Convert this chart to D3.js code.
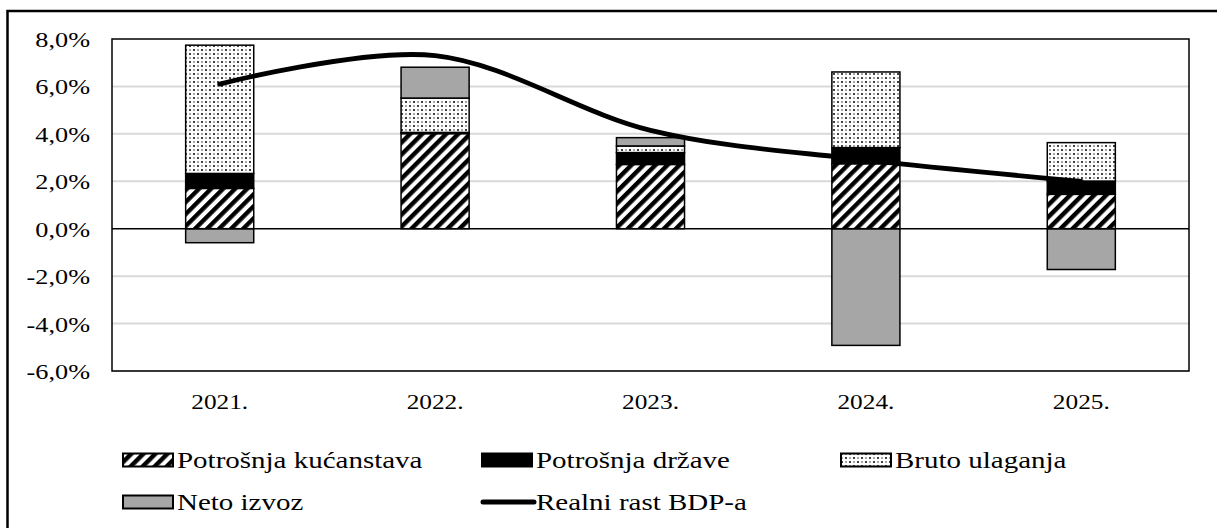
<!DOCTYPE html>
<html>
<head>
<meta charset="utf-8">
<script src="https://cdn.jsdelivr.net/npm/d3@7"></script>
<style>
  body { margin: 0; background: #fff; }
  text { font-family: "Liberation Serif", "Times New Roman", serif; fill: #000; }
</style>
</head>
<body>
<svg id="chart" width="1217" height="528"></svg>
<script>
"use strict";

// values (percentage points)
var years = ["2021.", "2022.", "2023.", "2024.", "2025."];
var kucanstva = [1.70, 4.01, 2.71, 2.74, 1.45];
var drzava = [0.63, 0.05, 0.50, 0.68, 0.56];
var ulaganja = [5.41, 1.45, 0.28, 3.19, 1.62];
var izvoz = [-0.59, 1.30, 0.35, -4.92, -1.72];
var bdp = [6.1, 7.3, 4.15, 2.9, 2.0];
var yTicks = [-6, -4, -2, 0, 2, 4, 6, 8];

var seriesKeys = ["kucanstva", "drzava", "ulaganja", "izvoz"];
var seriesNames = {
  kucanstva: "Potrošnja kućanstava",
  drzava: "Potrošnja države",
  ulaganja: "Bruto ulaganja",
  izvoz: "Neto izvoz"
};

var rows = years.map(function (y, i) {
  return {year: y, kucanstva: kucanstva[i], drzava: drzava[i], ulaganja: ulaganja[i], izvoz: izvoz[i], bdp: bdp[i]};
});

var svg = d3.select("#chart");
var plotLeft = 112, plotRight = 1189, plotTop = 39, plotBottom = 371;

var defs = svg.append("defs");

var hatch = defs.append("pattern")
  .attr("id", "hatch")
  .attr("patternUnits", "userSpaceOnUse")
  .attr("width", 8.5)
  .attr("height", 8.5)
  .attr("patternTransform", "rotate(45)");
hatch.append("rect").attr("width", 8.5).attr("height", 8.5).attr("fill", "#fff");
hatch.append("rect").attr("width", 4.4).attr("height", 8.5).attr("fill", "#000");

var dots = defs.append("pattern")
  .attr("id", "dots")
  .attr("patternUnits", "userSpaceOnUse")
  .attr("width", 8)
  .attr("height", 8);
dots.append("rect").attr("width", 8).attr("height", 8).attr("fill", "#fff");
[[2, 2, 1.0], [6, 6, 1.0], [6, 2, 0.65], [2, 6, 0.65]].forEach(function (d) {
  dots.append("circle").attr("cx", d[0]).attr("cy", d[1]).attr("r", d[2]).attr("fill", "#000");
});

var fills = {
  kucanstva: "url(#hatch)",
  drzava: "#000",
  ulaganja: "url(#dots)",
  izvoz: "#a6a6a6"
};

// outer frame (runs off the right and bottom edges)
svg.append("rect")
  .attr("x", 7.5)
  .attr("y", 11)
  .attr("width", 1240)
  .attr("height", 540)
  .attr("fill", "none")
  .attr("stroke", "#000")
  .attr("stroke-width", 2.5);

var x = d3.scaleBand()
  .domain(years)
  .range([plotLeft, plotRight])
  .paddingInner(0.684)
  .paddingOuter(0.342);

var y = d3.scaleLinear()
  .domain([-6, 8])
  .range([plotBottom, plotTop]);

// gridlines
svg.append("g")
  .selectAll("line")
  .data(yTicks.filter(function (t) { return t !== 0 && t !== 8; }))
  .enter()
  .append("line")
  .attr("x1", plotLeft)
  .attr("x2", plotRight)
  .attr("y1", function (d) { return y(d); })
  .attr("y2", function (d) { return y(d); })
  .attr("stroke", "#d9d9d9")
  .attr("stroke-width", 2);

// y tick labels (the reference text is drawn wide, hence the x scale)
svg.append("g")
  .selectAll("text")
  .data(yTicks)
  .enter()
  .append("text")
  .attr("transform", function (d) { return "translate(90," + (y(d) + 8) + ") scale(1.25,1)"; })
  .attr("text-anchor", "end")
  .style("font-size", "21px")
  .text(function (d) { return d3.format(".1f")(d).replace(".", ",").replace("−", "-") + "%"; });

// stacked bars
var stack = d3.stack()
  .keys(seriesKeys)
  .offset(d3.stackOffsetDiverging);

var layers = svg.append("g")
  .selectAll("g")
  .data(stack(rows))
  .enter()
  .append("g")
  .attr("fill", function (d) { return fills[d.key]; });

layers.selectAll("rect")
  .data(function (d) { return d; })
  .enter()
  .append("rect")
  .attr("x", function (d) { return x(d.data.year); })
  .attr("width", x.bandwidth())
  .attr("y", function (d) { return y(Math.max(d[0], d[1])); })
  .attr("height", function (d) { return Math.abs(y(d[0]) - y(d[1])); })
  .attr("stroke", "#000")
  .attr("stroke-width", 1.5);

// zero line
svg.append("line")
  .attr("x1", plotLeft)
  .attr("x2", plotRight)
  .attr("y1", y(0))
  .attr("y2", y(0))
  .attr("stroke", "#000")
  .attr("stroke-width", 1.5);

// plot frame
svg.append("rect")
  .attr("x", plotLeft)
  .attr("y", plotTop)
  .attr("width", plotRight - plotLeft)
  .attr("height", plotBottom - plotTop)
  .attr("fill", "none")
  .attr("stroke", "#000")
  .attr("stroke-width", 1.5);

// real GDP growth, smoothed like the spreadsheet line
var line = d3.line()
  .x(function (d) { return x(d.year) + x.bandwidth() / 2; })
  .y(function (d) { return y(d.bdp); })
  .curve(d3.curveCardinal.tension(0));

svg.append("path")
  .datum(rows)
  .attr("d", line)
  .attr("fill", "none")
  .attr("stroke", "#000")
  .attr("stroke-width", 4.8)
  .attr("stroke-linecap", "round");

// category labels
svg.append("g")
  .selectAll("text")
  .data(years)
  .enter()
  .append("text")
  .attr("transform", function (d) { return "translate(" + (x(d) + x.bandwidth() / 2) + ",409) scale(1.15,1)"; })
  .attr("text-anchor", "middle")
  .style("font-size", "22px")
  .text(function (d) { return d; });

// legend
var legendItems = [
  {key: "kucanstva", x: 122, y: 460},
  {key: "drzava", x: 481, y: 460},
  {key: "ulaganja", x: 840, y: 460},
  {key: "izvoz", x: 122, y: 502},
  {key: "bdp", x: 481, y: 502}
];

var legend = svg.append("g")
  .selectAll("g")
  .data(legendItems)
  .enter()
  .append("g")
  .attr("transform", function (d) { return "translate(" + d.x + "," + d.y + ")"; });

legend.each(function (d) {
  var g = d3.select(this);
  if (d.key === "bdp") {
    g.append("line")
      .attr("x1", 2)
      .attr("x2", 53)
      .attr("stroke", "#000")
      .attr("stroke-width", 5)
      .attr("stroke-linecap", "round");
  } else {
    g.append("rect")
      .attr("x", 1)
      .attr("y", -6.5)
      .attr("width", 50)
      .attr("height", 13)
      .attr("fill", fills[d.key])
      .attr("stroke", "#000")
      .attr("stroke-width", 2);
  }
  g.append("text")
    .attr("transform", "translate(55,8) scale(1.26,1)")
    .style("font-size", "23px")
    .text(d.key === "bdp" ? "Realni rast BDP-a" : seriesNames[d.key]);
});
</script>
</body>
</html>
